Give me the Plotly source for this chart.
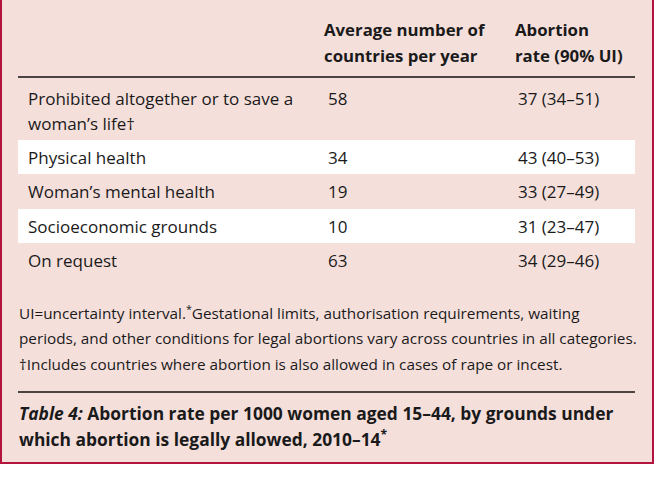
import plotly.graph_objects as go

categories = ["Prohibited altogether or to save a\nwoman’s life†", "Physical health",
              "Woman’s mental health", "Socioeconomic grounds", "On request"]
countries = ["58", "34", "19", "10", "63"]
rates = ["37 (34–51)", "43 (40–53)", "33 (27–49)", "31 (23–47)", "34 (29–46)"]
headers = ["Average number of\ncountries per year", "Abortion\nrate (90% UI)"]
footnote = ["UI=uncertainty interval.<sup>*</sup>Gestational limits, authorisation requirements, waiting",
            "periods, and other conditions for legal abortions vary across countries in all categories.",
            "†Includes countries where abortion is also allowed in cases of rape or incest."]
caption = ["<i>Table 4:</i> Abortion rate per 1000 women aged 15–44, by grounds under",
           "which abortion is legally allowed, 2010–14<sup>*</sup>"]

W, H = 657, 484
FONT = "Open Sans"
INK = "#1a1a1a"
BG = "#F5DFDB"
BORDER = "#B3143F"

fig = go.Figure()
fig.add_trace(go.Scatter(x=[100], y=[100], mode="markers", marker=dict(opacity=0),
                         hoverinfo="skip", showlegend=False))

shapes = []
shapes.append(dict(type="rect", x0=0, x1=653, y0=0, y1=463, fillcolor=BG, line=dict(width=0), layer="below"))
shapes.append(dict(type="line", x0=1, x1=1, y0=0, y1=463, line=dict(color=BORDER, width=2)))
shapes.append(dict(type="line", x0=653, x1=653, y0=0, y1=463, line=dict(color=BORDER, width=2)))
shapes.append(dict(type="line", x0=0, x1=654, y0=463, y1=463, line=dict(color=BORDER, width=2)))
shapes.append(dict(type="line", x0=18, x1=635, y0=77, y1=77, line=dict(color="#111111", width=1.5)))
shapes.append(dict(type="line", x0=18, x1=635, y0=392, y1=392, line=dict(color="#111111", width=1.5)))

row_y = [98, 157, 191.5, 226, 260.5]
LINE = 25
for i in [1, 3]:
    shapes.append(dict(type="rect", x0=18, x1=635, y0=row_y[i] - 17, y1=row_y[i] + 17,
                       fillcolor="white", line=dict(width=0), layer="below"))

ann = []

def txt(x, y, t, size=17):
    ann.append(dict(x=x, y=y, text=t, xanchor="left", yanchor="middle", align="left",
                    xref="x", yref="y", showarrow=False,
                    font=dict(family=FONT, size=size, color=INK)))

for hx, h in zip([322, 513], headers):
    for k, line in enumerate(h.split("\n")):
        txt(hx, 29 + k * 26, "<b>" + line + "</b>", 16.8)

for i, (c, n, r) in enumerate(zip(categories, countries, rates)):
    for k, line in enumerate(c.split("\n")):
        txt(26, row_y[i] + k * LINE, line, 17)
    txt(326, row_y[i], n, 17)
    txt(516, row_y[i], r, 17)

for k, line in enumerate(footnote):
    txt(17, 312 + k * 26, line, 15.3)

for k, line in enumerate(caption):
    txt(17, 413 + k * 25, "<b>" + line + "</b>", 17.4)

fig.update_layout(
    width=W, height=H, margin=dict(l=0, r=0, t=0, b=0),
    paper_bgcolor="white", plot_bgcolor="white",
    xaxis=dict(range=[0, W], visible=False, fixedrange=True),
    yaxis=dict(range=[H, 0], visible=False, fixedrange=True),
    shapes=shapes, annotations=ann,
)
fig.write_html("out.html", config={"displayModeBar": False},
               post_script="document.body.style.margin='0';document.body.style.overflow='hidden';")
